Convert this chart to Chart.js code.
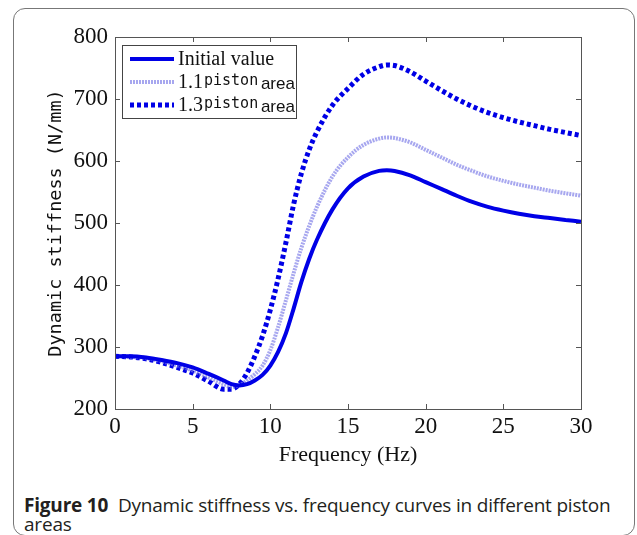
<!DOCTYPE html>
<html>
<head>
<meta charset="utf-8">
<script src="https://cdn.jsdelivr.net/npm/chart.js@4"></script>
<style>
  html, body { margin: 0; padding: 0; background: #fff; }
  body { width: 637px; height: 535px; position: relative; overflow: hidden; }
  .card {
    position: absolute; left: 13px; top: 8px; width: 622px; height: 528px;
    border: 1.5px solid #777; border-radius: 12px; box-sizing: border-box;
  }
  #wrap { position: absolute; left: 0; top: 0; width: 637px; height: 470px; }
  .caption {
    position: absolute; left: 24px; top: 496px; width: 600px;
    font-family: "Open Sans", "Noto Sans", sans-serif; font-size: 19px;
    line-height: 19px; color: #231f20; letter-spacing: -0.2px;
  }
  .caption b { font-weight: 700; margin-right: 5px; }
</style>
</head>
<body>
<div class="card"></div>
<div id="wrap"><canvas id="chart" width="637" height="470"></canvas></div>
<div class="caption"><b>Figure 10</b> Dynamic stiffness vs. frequency curves in different piston areas</div>
<script>
// --- data ---
const freq = [0, 1, 2, 3, 4, 5, 6, 7, 7.5, 8, 8.5, 9, 9.5, 10, 10.5, 11, 11.5, 12, 12.5, 13,
              14, 15, 16, 17, 17.5, 18, 19, 20, 21, 22, 23, 24, 25, 26, 27, 28, 29, 30];
const initialValue = [285, 285, 283, 279, 274, 267, 257, 246, 240, 238, 240, 246, 255, 270, 292, 322, 362, 405, 442, 473,
                      522, 556, 575, 584, 585, 584, 577, 566, 555, 544, 534, 526, 520, 515, 511, 508, 505, 502];
const piston11 = [285, 284, 282, 277, 270, 262, 251, 240, 236, 238, 246, 256, 270, 295, 332, 375, 419, 460, 495, 526,
                  575, 606, 626, 636, 638, 637, 630, 618, 606, 594, 584, 575, 568, 562, 557, 552, 548, 544];
const piston13 = [285, 284, 281, 275, 267, 258, 245, 232, 232, 240, 258, 285, 318, 360, 410, 468, 530, 580, 618, 647,
                  690, 717, 740, 752, 755, 754, 744, 729, 714, 700, 688, 678, 670, 663, 657, 651, 646, 641];
const xTicks = [0, 5, 10, 15, 20, 25, 30];
const yTicks = [200, 300, 400, 500, 600, 700, 800];
const seriesNames = [['1.1', 'piston', ' area'], ['1.3', 'piston', ' area']];

const toPoints = (ys) => freq.map((f, i) => ({ x: f, y: ys[i] }));

const serif = '"Liberation Serif", "Times New Roman", serif';
const mono = '"DejaVu Sans Mono", monospace';

// frame with inward ticks on all four sides
const framePlugin = {
    id: 'frame',
    afterDraw(chart) {
        const { ctx, chartArea: a, scales } = chart;
        ctx.save();
        ctx.strokeStyle = '#555';
        ctx.lineWidth = 1;
        ctx.strokeRect(a.left + 0.5, a.top + 0.5, a.right - a.left, a.bottom - a.top);
        const len = 5;
        ctx.beginPath();
        xTicks.forEach(v => {
            const px = Math.round(scales.x.getPixelForValue(v)) + 0.5;
            ctx.moveTo(px, a.bottom); ctx.lineTo(px, a.bottom - len);
            ctx.moveTo(px, a.top); ctx.lineTo(px, a.top + len);
        });
        yTicks.forEach(v => {
            const py = Math.round(scales.y.getPixelForValue(v)) + 0.5;
            ctx.moveTo(a.left, py); ctx.lineTo(a.left + len, py);
            ctx.moveTo(a.right, py); ctx.lineTo(a.right - len, py);
        });
        ctx.stroke();
        ctx.restore();
    }
};

// legend box in the top-left corner, mixed fonts like the original
const legendPlugin = {
    id: 'boxLegend',
    afterDraw(chart) {
        const { ctx } = chart;
        const x0 = 122, y0 = 45, w = 174, h = 73;
        ctx.save();
        ctx.fillStyle = '#fff';
        ctx.fillRect(x0, y0, w, h);
        ctx.strokeStyle = '#444';
        ctx.lineWidth = 1;
        ctx.strokeRect(x0 + 0.5, y0 + 0.5, w, h);
        const rows = [y0 + 14, y0 + 37, y0 + 60];
        chart.data.datasets.forEach((ds, i) => {
            const y = rows[i];
            ctx.beginPath();
            ctx.strokeStyle = ds.borderColor;
            ctx.lineWidth = ds.borderWidth;
            ctx.setLineDash(ds.borderDash || []);
            ctx.moveTo(x0 + 8, y);
            ctx.lineTo(x0 + 52, y);
            ctx.stroke();
            ctx.setLineDash([]);
            ctx.fillStyle = '#111';
            ctx.textBaseline = 'middle';
            let tx = x0 + 56;
            if (i === 0) {
                ctx.font = '20px ' + serif;
                ctx.fillText(ds.label, tx, y + 1);
            } else {
                const parts = seriesNames[i - 1];
                ctx.font = '20px ' + serif;
                ctx.fillText(parts[0], tx, y + 1);
                tx += ctx.measureText(parts[0]).width + 1;
                ctx.font = '15px ' + mono;
                ctx.fillText(parts[1], tx, y - 1);
                tx += ctx.measureText(parts[1]).width - 2;
                ctx.font = '17px "Liberation Sans", Arial, sans-serif';
                ctx.fillText(parts[2], tx, y + 2);
            }
        });
        ctx.restore();
    }
};

new Chart(document.getElementById('chart'), {
    type: 'line',
    data: {
        datasets: [{
            label: 'Initial value',
            data: toPoints(initialValue),
            borderColor: '#0000e6',
            borderWidth: 4,
        }, {
            label: '1.1piston area',
            data: toPoints(piston11),
            borderColor: 'rgba(120,120,230,0.65)',
            borderWidth: 4,
            borderDash: [2, 1],
        }, {
            label: '1.3piston area',
            data: toPoints(piston13),
            borderColor: '#0000e6',
            borderWidth: 5,
            borderDash: [4, 3],
        }]
    },
    options: {
        responsive: false,
        animation: false,
        layout: { padding: { left: 0, top: 37, right: 56, bottom: 0 } },
        elements: {
            point: { radius: 0 },
            line: { cubicInterpolationMode: 'monotone', fill: false }
        },
        plugins: { legend: { display: false }, tooltip: { enabled: false } },
        scales: {
            x: {
                type: 'linear', min: 0, max: 30,
                afterBuildTicks: (s) => { s.ticks = xTicks.map(v => ({ value: v })); },
                afterFit: (s) => { s.height = 61; },
                grid: { display: false },
                border: { display: false },
                ticks: { color: '#111', font: { family: serif, size: 23 }, padding: -4, maxRotation: 0 },
                title: {
                    display: true, text: 'Frequency (Hz)', color: '#111',
                    font: { family: serif, size: 22 }, padding: { top: 0, bottom: 2 }
                }
            },
            y: {
                min: 200, max: 800,
                afterBuildTicks: (s) => { s.ticks = yTicks.map(v => ({ value: v })); },
                afterFit: (s) => { s.width = 115; },
                grid: { display: false },
                border: { display: false },
                ticks: { color: '#111', font: { family: serif, size: 23 }, padding: -1 },
                title: {
                    display: true, text: 'Dynamic stiffness (N/mm)', color: '#111',
                    font: { family: mono, size: 18.5 }, padding: { top: 45, bottom: 0 }
                }
            }
        }
    },
    plugins: [framePlugin, legendPlugin]
});
</script>
</body>
</html>
